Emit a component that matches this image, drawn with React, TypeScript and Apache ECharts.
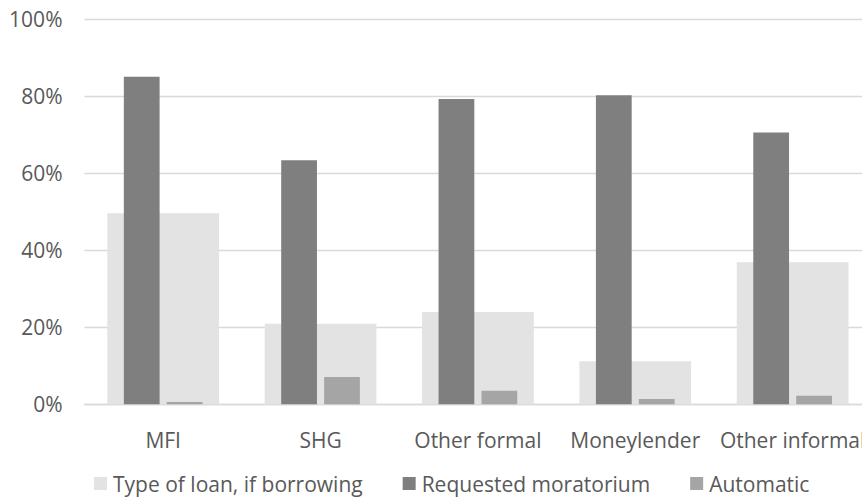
import React, { useEffect, useRef } from "react";
import * as echarts from "echarts";

const categories = ["MFI", "SHG", "Other formal", "Moneylender", "Other informal"];
const typeOfLoan = [49.6, 20.9, 24.0, 11.2, 36.9];
const requestedMoratorium = [85.1, 63.4, 79.3, 80.3, 70.6];
const automatic = [0.6, 7.1, 3.5, 1.4, 2.2];
const seriesNames = ["Type of loan, if borrowing", "Requested moratorium", "Automatic"];

const FONT = "Open Sans";
const TEXT = "#595959";

export default function App() {
  const ref = useRef<HTMLDivElement>(null);
  useEffect(() => {
    if (!ref.current) return;
    const chart = echarts.init(ref.current, undefined, { renderer: "svg" });
    chart.setOption({
      animation: false,
      backgroundColor: "#ffffff",
      textStyle: { fontFamily: FONT },
      grid: {
        left: 84.5,
        top: 19.3,
        bottom: 98.7,
        right: -9.3,
        outerBoundsMode: "none",
        containLabel: false,
      },
      legend: {
        left: 89,
        top: 468,
        itemWidth: 13,
        itemHeight: 13,
        itemGap: 40,
        icon: "rect",
        textStyle: { color: TEXT, fontSize: 21, fontFamily: FONT, padding: [0, 0, 0, 1] },
        data: seriesNames,
      },
      xAxis: [
        {
          type: "category",
          data: categories,
          axisLine: { show: true, lineStyle: { color: "#d9d9d9", width: 1.3 } },
          axisTick: { show: false },
          axisLabel: { interval: 0, color: TEXT, fontSize: 21, fontFamily: FONT, margin: 25 },
        },
        {
          type: "category",
          data: categories,
          show: false,
        },
      ],
      yAxis: {
        type: "value",
        min: 0,
        max: 100,
        interval: 20,
        axisLine: { show: false },
        axisTick: { show: false },
        splitLine: { lineStyle: { color: "#d9d9d9", width: 1.3 } },
        axisLabel: { formatter: "{value}%", color: TEXT, fontSize: 21, fontFamily: FONT, margin: 22 },
      },
      series: [
        {
          name: seriesNames[0],
          type: "bar",
          xAxisIndex: 0,
          data: typeOfLoan,
          barCategoryGap: "29%",
          itemStyle: { color: "#e3e3e3" },
          z: 1,
        },
        {
          name: seriesNames[1],
          type: "bar",
          xAxisIndex: 1,
          data: requestedMoratorium,
          barCategoryGap: "50%",
          barGap: "20%",
          itemStyle: { color: "#7f7f7f" },
          z: 3,
        },
        {
          name: seriesNames[2],
          type: "bar",
          xAxisIndex: 1,
          data: automatic,
          barCategoryGap: "50%",
          barGap: "20%",
          itemStyle: { color: "#a5a5a5" },
          z: 3,
        },
      ],
    });
    return () => chart.dispose();
  }, []);
  return <div ref={ref} style={{ width: 862, height: 503, position: "absolute", left: 0, top: 0 }} />;
}
